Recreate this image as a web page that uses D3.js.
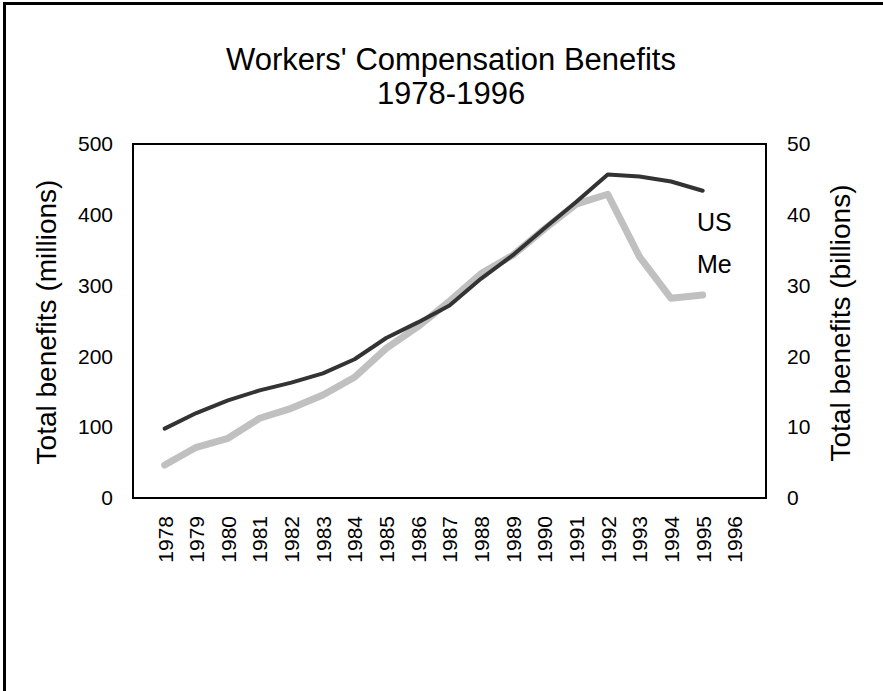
<!DOCTYPE html>
<html>
<head>
<meta charset="utf-8">
<script src="https://cdn.jsdelivr.net/npm/d3@7"></script>
<style>
	body { margin: 0; background: #fff; }
	svg { display: block; font-family: "Liberation Sans", Arial, sans-serif; }
</style>
</head>
<body>
<svg id="chart"></svg>
<script>
// categories
const years = ["1978", "1979", "1980", "1981", "1982", "1983", "1984", "1985", "1986", "1987",
	"1988", "1989", "1990", "1991", "1992", "1993", "1994", "1995", "1996"];
// Maine, total benefits in millions (left axis)
const meValues = [46.6, 71.6, 84.3, 112.6, 126.7, 145.5, 170.5, 211.4, 242, 278,
	317, 343, 380, 415, 429, 341, 282, 286.7];
// US, total benefits in billions (right axis)
const usValues = [9.8, 12.0, 13.8, 15.2, 16.3, 17.6, 19.6, 22.6, 24.8, 27.2,
	31.0, 34.3, 38.1, 41.8, 45.7, 45.4, 44.7, 43.4];
const leftTicks = [0, 100, 200, 300, 400, 500];
const rightTicks = [0, 10, 20, 30, 40, 50];

const width = 883, height = 691;
const plot = { left: 133, right: 766, top: 144, bottom: 498 };

const svg = d3.select("#chart")
	.attr("width", width)
	.attr("height", height);

// outer frame (only left and top edges show)
svg.append("path")
	.attr("d", `M4.5,${height} V3.5 H${width}`)
	.attr("fill", "none")
	.attr("stroke", "#000")
	.attr("stroke-width", 3);

// title
svg.append("text")
	.attr("x", 451).attr("y", 70)
	.attr("text-anchor", "middle")
	.style("font-size", "31px")
	.text("Workers' Compensation Benefits");
svg.append("text")
	.attr("x", 451).attr("y", 104)
	.attr("text-anchor", "middle")
	.style("font-size", "31px")
	.text("1978-1996");

// scales
const x = d3.scalePoint()
	.domain(years)
	.range([plot.left, plot.right])
	.padding(1);
const yLeft = d3.scaleLinear().domain([0, 500]).range([plot.bottom, plot.top]);
const yRight = d3.scaleLinear().domain([0, 50]).range([plot.bottom, plot.top]);

// left axis
const leftAxis = svg.append("g")
	.attr("transform", `translate(${plot.left - 20}, 0)`)
	.call(d3.axisLeft(yLeft).tickValues(leftTicks).tickSize(0).tickPadding(0));
leftAxis.select(".domain").remove();

// right axis
const rightAxis = svg.append("g")
	.attr("transform", `translate(${plot.right + 21}, 0)`)
	.call(d3.axisRight(yRight).tickValues(rightTicks).tickSize(0).tickPadding(0));
rightAxis.select(".domain").remove();

// x axis, rotated labels
const xAxis = svg.append("g")
	.attr("transform", `translate(0, ${plot.bottom + 18})`)
	.call(d3.axisBottom(x).tickSize(0).tickPadding(0));
xAxis.select(".domain").remove();
xAxis.selectAll("text")
	.attr("transform", "rotate(-90)")
	.attr("x", 0)
	.attr("y", 0)
	.attr("dy", "0.35em")
	.attr("text-anchor", "end");

svg.selectAll(".tick text")
	.style("font-size", "21px")
	.style("font-family", "'Liberation Sans', Arial, sans-serif")
	.attr("fill", "#000");

// axis titles
svg.append("text")
	.attr("transform", "translate(56, 322) rotate(-90)")
	.attr("text-anchor", "middle")
	.style("font-size", "28px")
	.text("Total benefits (millions)");
svg.append("text")
	.attr("transform", "translate(850, 323) rotate(-90)")
	.attr("text-anchor", "middle")
	.style("font-size", "28px")
	.text("Total benefits (billions)");

// lines
const meLine = d3.line()
	.x((d, i) => x(years[i]))
	.y(d => yLeft(d));
const usLine = d3.line()
	.x((d, i) => x(years[i]))
	.y(d => yRight(d));

svg.append("path")
	.datum(meValues)
	.attr("fill", "none")
	.attr("stroke", "#c0c0c0")
	.attr("stroke-width", 7)
	.attr("stroke-linejoin", "round")
	.attr("stroke-linecap", "round")
	.attr("d", meLine);

svg.append("path")
	.datum(usValues)
	.attr("fill", "none")
	.attr("stroke", "#333333")
	.attr("stroke-width", 4)
	.attr("stroke-linejoin", "round")
	.attr("stroke-linecap", "round")
	.attr("d", usLine);

// plot border
svg.append("rect")
	.attr("x", plot.left)
	.attr("y", plot.top)
	.attr("width", plot.right - plot.left)
	.attr("height", plot.bottom - plot.top)
	.attr("fill", "none")
	.attr("stroke", "#000")
	.attr("stroke-width", 2);

// series labels
svg.append("text")
	.attr("x", 697).attr("y", 231)
	.style("font-size", "25px")
	.text("US");
svg.append("text")
	.attr("x", 697).attr("y", 273)
	.style("font-size", "25px")
	.text("Me");
</script>
</body>
</html>
